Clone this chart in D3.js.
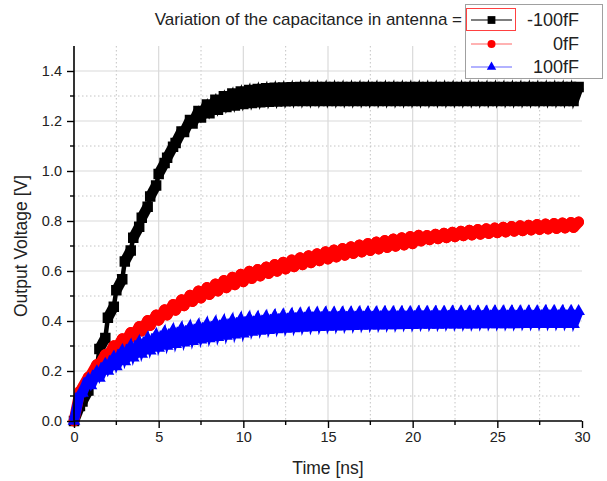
<!DOCTYPE html>
<html>
<head>
<meta charset="utf-8">
<script src="https://cdn.jsdelivr.net/npm/d3@7"></script>
<style>
  html, body { margin: 0; padding: 0; background: #fff; }
  svg { display: block; font-family: "Liberation Sans", Arial, sans-serif; }
</style>
</head>
<body>
<svg id="chart" width="607" height="481"></svg>
<script>
// ---- data ----
// start time of each 0.5 ns cycle [ns]
const cycleStart = [0,0.5,1,1.5,2,2.5,3,3.5,4,4.5,5,5.5,6,6.5,7,7.5,8,8.5,9,9.5,
  10,10.5,11,11.5,12,12.5,13,13.5,14,14.5,15,15.5,16,16.5,17,17.5,18,18.5,19,19.5,
  20,20.5,21,21.5,22,22.5,23,23.5,24,24.5,25,25.5,26,26.5,27,27.5,28,28.5,29,29.5];
// time of the ripple peak inside each cycle [ns]
const cyclePeak = [0.35,0.85,1.35,1.85,2.35,2.85,3.35,3.85,4.35,4.85,5.35,5.85,6.35,6.85,7.35,7.85,8.35,8.85,9.35,9.85,
  10.35,10.85,11.35,11.85,12.35,12.85,13.35,13.85,14.35,14.85,15.35,15.85,16.35,16.85,17.35,17.85,18.35,18.85,19.35,19.85,
  20.35,20.85,21.35,21.85,22.35,22.85,23.35,23.85,24.35,24.85,25.35,25.85,26.35,26.85,27.35,27.85,28.35,28.85,29.35,29.8];

// -100fF : valley / peak output voltage per cycle [V]
const neg100Low = [0.000,0.078,0.168,0.288,0.413,0.523,0.638,0.733,0.813,0.898,
  0.988,1.053,1.112,1.156,1.190,1.214,1.231,1.245,1.256,1.262,
  1.268,1.272,1.275,1.277,1.278,1.279,1.280,1.280,1.280,1.280,
  1.280,1.280,1.280,1.280,1.280,1.280,1.280,1.280,1.280,1.280,
  1.280,1.280,1.280,1.280,1.280,1.280,1.280,1.280,1.280,1.280,
  1.280,1.280,1.280,1.280,1.280,1.280,1.280,1.280,1.280,1.280];
const neg100High = [0.060,0.122,0.212,0.332,0.457,0.567,0.682,0.777,0.857,0.942,
  1.032,1.097,1.158,1.204,1.240,1.266,1.285,1.299,1.310,1.318,
  1.324,1.328,1.331,1.333,1.334,1.335,1.336,1.336,1.336,1.336,
  1.336,1.336,1.336,1.336,1.336,1.336,1.336,1.336,1.336,1.336,
  1.336,1.336,1.336,1.336,1.336,1.336,1.336,1.336,1.336,1.336,
  1.336,1.336,1.336,1.336,1.336,1.336,1.336,1.336,1.336,1.336];

// 0fF
const zeroLow = [0.000,0.134,0.184,0.224,0.259,0.287,0.312,0.336,0.360,0.382,
  0.403,0.424,0.443,0.461,0.478,0.492,0.506,0.520,0.533,0.545,
  0.557,0.570,0.580,0.590,0.599,0.608,0.617,0.625,0.633,0.641,
  0.648,0.656,0.663,0.670,0.676,0.682,0.688,0.694,0.699,0.704,
  0.709,0.720,0.725,0.729,0.733,0.737,0.741,0.744,0.747,0.750,
  0.753,0.756,0.759,0.761,0.764,0.766,0.768,0.770,0.772,0.774];
const zeroHigh = [0.120,0.176,0.226,0.266,0.301,0.329,0.354,0.378,0.402,0.424,
  0.445,0.466,0.485,0.503,0.520,0.534,0.548,0.562,0.575,0.587,
  0.599,0.606,0.616,0.626,0.635,0.644,0.653,0.661,0.669,0.677,
  0.684,0.690,0.697,0.704,0.710,0.716,0.722,0.728,0.733,0.738,
  0.743,0.742,0.747,0.751,0.755,0.759,0.763,0.766,0.769,0.772,
  0.775,0.778,0.781,0.783,0.786,0.788,0.790,0.792,0.794,0.796];

// 100fF
const pos100Low = [0.000,0.112,0.142,0.172,0.200,0.218,0.238,0.253,0.268,0.281,
  0.292,0.300,0.307,0.313,0.319,0.325,0.330,0.335,0.340,0.345,
  0.349,0.356,0.360,0.363,0.366,0.368,0.370,0.372,0.374,0.375,
  0.376,0.377,0.378,0.379,0.380,0.381,0.381,0.382,0.382,0.383,
  0.383,0.384,0.384,0.384,0.385,0.385,0.385,0.385,0.386,0.386,
  0.386,0.386,0.386,0.387,0.387,0.387,0.387,0.387,0.387,0.387];
const pos100High = [0.110,0.168,0.198,0.228,0.256,0.282,0.302,0.317,0.332,0.345,
  0.356,0.364,0.371,0.377,0.383,0.389,0.394,0.399,0.404,0.409,
  0.413,0.414,0.418,0.421,0.424,0.426,0.428,0.430,0.431,0.432,
  0.432,0.433,0.433,0.434,0.434,0.434,0.435,0.435,0.435,0.435,
  0.436,0.436,0.436,0.436,0.437,0.437,0.437,0.437,0.437,0.438,
  0.438,0.438,0.438,0.438,0.438,0.439,0.439,0.439,0.439,0.439];

const seriesNames = ["-100fF", "0fF", "100fF"];
const xTicks = [0, 5, 10, 15, 20, 25, 30];
const yTicks = [0.0, 0.2, 0.4, 0.6, 0.8, 1.0, 1.2, 1.4];
const titleText = "Variation of the capacitance in antenna =";
const xTitle = "Time [ns]";
const yTitle = "Output Voltage [V]";

// ---- layout ----
const svg = d3.select("#chart");
const mLeft = 74, mRight = 582, mTop = 46, mBottom = 421;
const x = d3.scaleLinear().domain([0, 30]).range([mLeft, mRight]);
const y = d3.scaleLinear().domain([0, 1.5]).range([mBottom, mTop]);

const series = [
  { name: seriesNames[0], low: neg100Low, high: neg100High, color: "#000000", symbol: d3.symbolSquare, size: 110, cap: "butt", width: 10.5 },
  { name: seriesNames[1], low: zeroLow, high: zeroHigh, color: "#ff0000", symbol: d3.symbolCircle, size: 92, cap: "round", width: 10.8 },
  { name: seriesNames[2], low: pos100Low, high: pos100High, color: "#0000ff", symbol: d3.symbolTriangle, size: 70, cap: "butt", width: 10 }
];

// ---- grid ----
const grid = svg.append("g");
const xMinor = [2.5, 7.5, 12.5, 17.5, 22.5, 27.5];
const yMinor = [0.1, 0.3, 0.5, 0.7, 0.9, 1.1, 1.3];
grid.selectAll(".gxm").data(xMinor).join("line")
  .attr("x1", d => x(d)).attr("x2", d => x(d)).attr("y1", mTop).attr("y2", mBottom)
  .attr("stroke", "#c4c4c4").attr("stroke-width", 1).attr("stroke-dasharray", "1.5,2.5");
grid.selectAll(".gym").data(yMinor).join("line")
  .attr("x1", mLeft).attr("x2", mRight).attr("y1", d => y(d)).attr("y2", d => y(d))
  .attr("stroke", "#c4c4c4").attr("stroke-width", 1).attr("stroke-dasharray", "1.5,2.5");
grid.selectAll(".gx").data(xTicks.filter(d => d > 0 && d < 30)).join("line")
  .attr("x1", d => x(d)).attr("x2", d => x(d)).attr("y1", mTop).attr("y2", mBottom)
  .attr("stroke", "#dadada").attr("stroke-width", 1.2);
grid.selectAll(".gy").data(yTicks.filter(d => d > 0)).join("line")
  .attr("x1", mLeft).attr("x2", mRight).attr("y1", d => y(d)).attr("y2", d => y(d))
  .attr("stroke", "#dadada").attr("stroke-width", 1.2);

// ---- series ----
const plot = svg.append("g");
series.forEach(s => {
  const pts = [];
  s.low.forEach((v, i) => {
    pts.push([cycleStart[i], v]);
    pts.push([cyclePeak[i], s.high[i]]);
  });
  const g = plot.append("g");
  g.append("path")
    .attr("d", d3.line().x(d => x(d[0])).y(d => y(d[1]))(pts))
    .attr("fill", "none").attr("stroke", s.color).attr("stroke-width", 4.5);
  // dense samples during the slow part of each cycle
  g.selectAll("line.seg").data(s.low.map((v, i) => i)).join("line")
    .attr("x1", i => x(cycleStart[i])).attr("y1", i => y(s.low[i]))
    .attr("x2", i => x(cyclePeak[i])).attr("y2", i => y(s.high[i]))
    .attr("stroke", s.color).attr("stroke-width", s.width).attr("stroke-linecap", s.cap);
  g.selectAll("path.sym").data(pts).join("path")
    .attr("transform", d => `translate(${x(d[0])},${y(d[1])})`)
    .attr("d", d3.symbol().type(s.symbol).size(s.size)())
    .attr("fill", s.color);
});

// ---- axes ----
const xAxis = d3.axisBottom(x).tickValues(xTicks).tickSize(7).tickPadding(4).tickFormat(d3.format("d"));
const yAxis = d3.axisLeft(y).tickValues(yTicks).tickSize(7).tickPadding(5).tickFormat(d3.format(".1f"));
const gx = svg.append("g").attr("transform", `translate(0,${mBottom})`).call(xAxis);
const gy = svg.append("g").attr("transform", `translate(${mLeft},0)`).call(yAxis);
[gx, gy].forEach(g => {
  g.select(".domain").attr("stroke", "#000").attr("stroke-width", 1.6);
  g.selectAll(".tick line").attr("stroke", "#000").attr("stroke-width", 1.4);
  g.selectAll(".tick text").attr("fill", "#222").attr("font-size", 14.5)
    .attr("font-family", "Liberation Sans, Arial, sans-serif");
});
gy.select(".domain").attr("d", `M0,${mTop}V${mBottom}`);
gx.select(".domain").attr("d", `M${mLeft},0H${mRight}`);
// minor ticks
svg.append("g").selectAll("line").data(xMinor).join("line")
  .attr("x1", d => x(d)).attr("x2", d => x(d)).attr("y1", mBottom).attr("y2", mBottom + 4)
  .attr("stroke", "#000").attr("stroke-width", 1.4);
svg.append("g").selectAll("line").data(yMinor).join("line")
  .attr("x1", mLeft - 4).attr("x2", mLeft).attr("y1", d => y(d)).attr("y2", d => y(d))
  .attr("stroke", "#000").attr("stroke-width", 1.4);

// ---- titles ----
svg.append("text").attr("x", 328).attr("y", 474).attr("text-anchor", "middle")
  .attr("font-size", 17.5).attr("fill", "#222").text(xTitle);
svg.append("text").attr("transform", "translate(27,246) rotate(-90)").attr("text-anchor", "middle")
  .attr("font-size", 17.5).attr("fill", "#222").text(yTitle);
svg.append("text").attr("x", 462).attr("y", 25).attr("text-anchor", "end")
  .attr("font-size", 17).attr("fill", "#222").text(titleText);

// ---- legend ----
const lg = svg.append("g");
lg.append("rect").attr("x", 465.5).attr("y", 4.5).attr("width", 137).attr("height", 74)
  .attr("fill", "#fff").attr("stroke", "#a0a0a0").attr("stroke-width", 1);
lg.append("rect").attr("x", 466.5).attr("y", 8.5).attr("width", 49).attr("height", 22)
  .attr("fill", "none").attr("stroke", "#ff4040").attr("stroke-width", 1);
const rowsY = [20, 44, 67];
series.forEach((s, i) => {
  lg.append("line").attr("x1", 471).attr("x2", 512).attr("y1", rowsY[i]).attr("y2", rowsY[i])
    .attr("stroke", s.color).attr("stroke-width", 1.2).attr("opacity", i === 0 ? 1 : 0.6);
  lg.append("path").attr("transform", `translate(491.5,${rowsY[i]})`)
    .attr("d", d3.symbol().type(s.symbol).size(s.size * 0.55)()).attr("fill", s.color);
  lg.append("text").attr("x", 579).attr("y", rowsY[i] + 6).attr("text-anchor", "end")
    .attr("font-size", 18).attr("fill", "#222").text(s.name);
});
</script>
</body>
</html>
